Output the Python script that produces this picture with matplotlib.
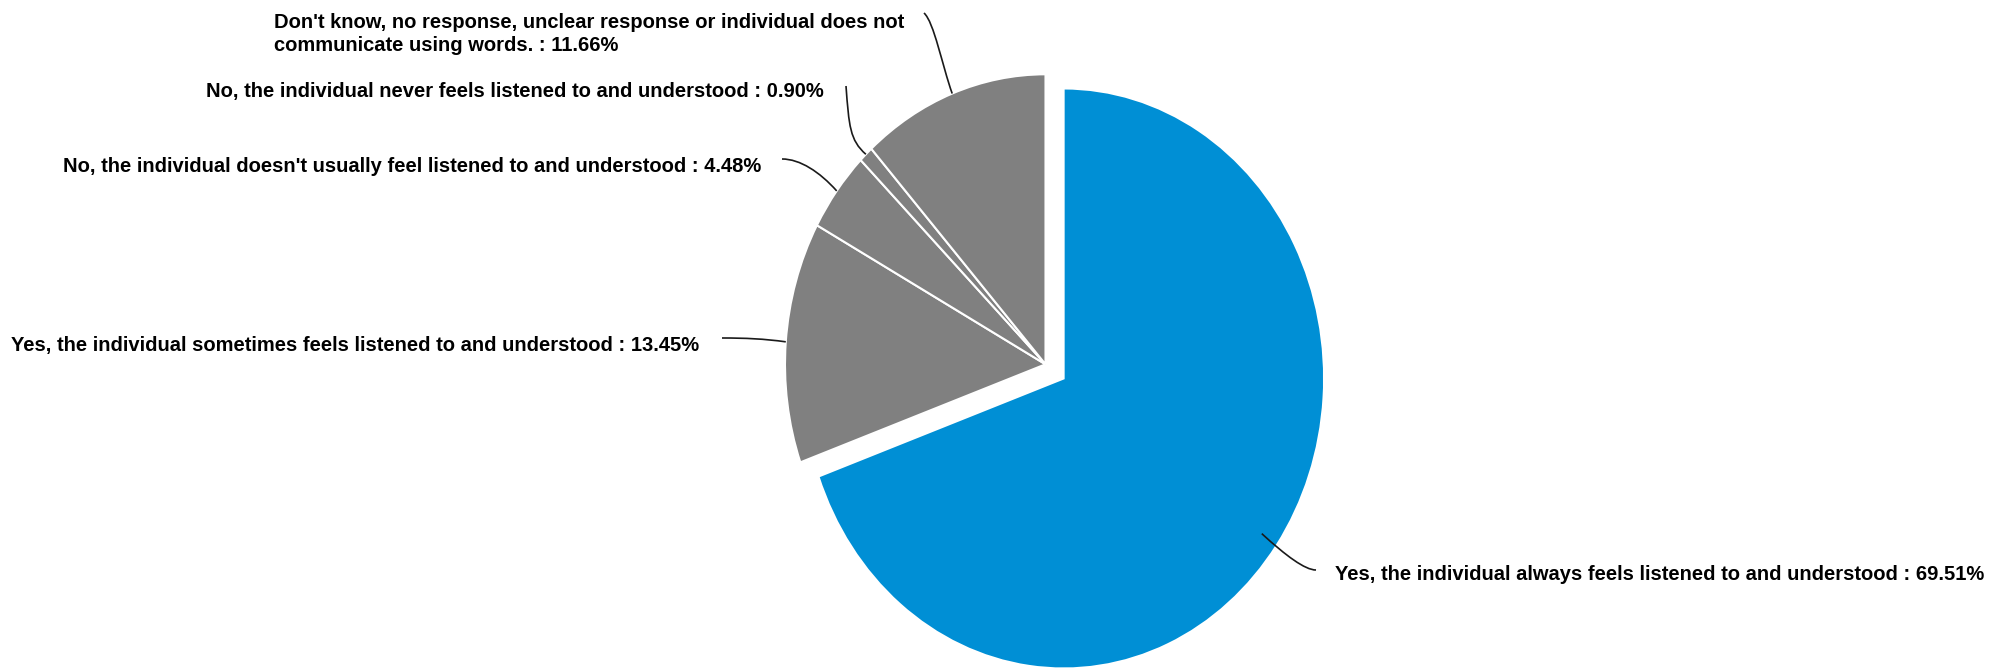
"""
Pie chart: does the individual feel listened to and understood?
Blue wedge pulled out, all other answers in grey, labels with curved leaders.
"""

import numpy as np
import matplotlib.pyplot as plt
from matplotlib.path import Path
from matplotlib.patches import PathPatch

W, H = 1989, 668

answers = [
    "Yes, the individual always feels listened to and understood",
    "Yes, the individual sometimes feels listened to and understood",
    "No, the individual doesn't usually feel listened to and understood",
    "No, the individual never feels listened to and understood",
    "Don't know, no response, unclear response or individual does not\ncommunicate using words.",
]
shares = [69.51, 13.45, 4.48, 0.90, 11.66]
slice_colors = ["#008fd5", "#808080", "#808080", "#808080", "#808080"]
explode = [0.085, 0, 0, 0, 0]

# label anchor (pixels from top-left), alignment, leader start point
label_pos = [(1335, 574, "left"), (699, 345, "right"), (761, 166, "right"),
             (824, 92, "right"), (904, 34, "right")]
leader_start = [(1316, 570), (722, 338), (782, 159), (846, 86), (924, 13)]
# bezier handles: offset from start, offset from pie end
leader_handles = [((-11, 0), (24, 22)), ((24, 0), (-22, -3)), ((18, 0), (-17, -19)),
                  ((3, 40), (-16, -14)), ((10, 9), (-10, -28))]
leader_depth = [0.93, 1.0, 1.0, 1.0, 1.0]

FONT = dict(family="Liberation Sans", weight="bold", size=14.5, color="black")

fig = plt.figure(figsize=(W / 100, H / 100), dpi=100)

# pie axes, stretched so the pie comes out slightly taller than wide
rx, ry = 260.5, 290.0
cx, cy = 1045.5, H - 364.3
pie_ax = fig.add_axes([(cx - 1.25 * rx) / W, (cy - 1.25 * ry) / H,
                       2.5 * rx / W, 2.5 * ry / H])
wedges, _ = pie_ax.pie(shares, colors=slice_colors, explode=explode,
                       startangle=90, counterclock=False,
                       wedgeprops=dict(edgecolor="white", linewidth=1.5))
pie_ax.set_aspect("auto")
pie_ax.set_xlim(-1.25, 1.25)
pie_ax.set_ylim(-1.25, 1.25)

# overlay in pixel coordinates for labels and leaders
ov = fig.add_axes([0, 0, 1, 1])
ov.set_xlim(0, W)
ov.set_ylim(H, 0)
ov.axis("off")

for wedge, name, share, (tx, ty, ha), p0, (h1, h2), depth in zip(
        wedges, answers, shares, label_pos, leader_start, leader_handles, leader_depth):
    mid = np.radians((wedge.theta1 + wedge.theta2) / 2)
    px = wedge.center[0] + depth * wedge.r * np.cos(mid)
    py = wedge.center[1] + depth * wedge.r * np.sin(mid)
    ex, ey = pie_ax.transData.transform((px, py))
    p3 = (ex, H - ey)
    verts = [p0, (p0[0] + h1[0], p0[1] + h1[1]), (p3[0] + h2[0], p3[1] + h2[1]), p3]
    path = Path(verts, [Path.MOVETO, Path.CURVE4, Path.CURVE4, Path.CURVE4])
    ov.add_patch(PathPatch(path, facecolor="none", edgecolor="#1a1a1a", lw=1.2))

    ov.text(tx, ty, f"{name} : {share:.2f}%", ha=ha, va="center",
            multialignment="left", linespacing=1.32, **FONT)

fig.savefig("out.png", dpi=100, facecolor="white")
